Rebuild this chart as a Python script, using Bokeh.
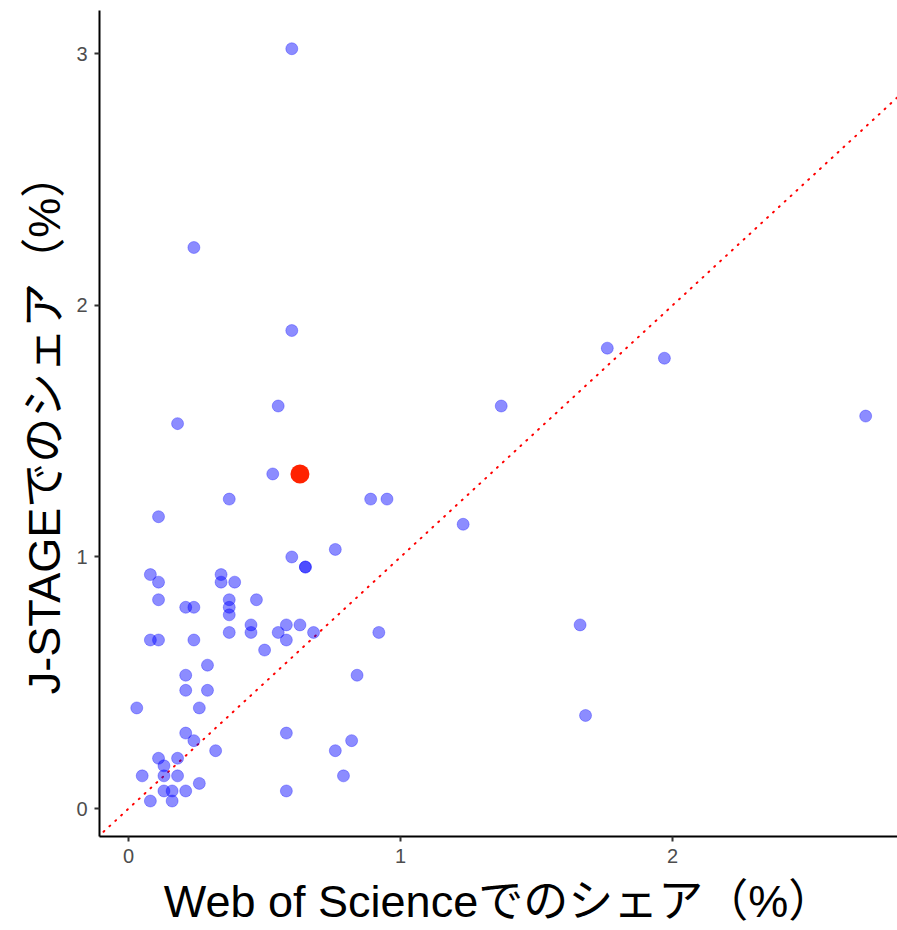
from bokeh.plotting import figure
from bokeh.models import ColumnDataSource, Range1d, FixedTicker
from bokeh.embed import file_html
from bokeh.resources import INLINE

# Web of Science share (%) and J-STAGE share (%) per field
wos_share = [0.60, 0.65, 0.65, 0.08, 0.11, 0.11, 0.21, 0.24, 0.34, 0.34, 0.39,
             0.37, 0.37, 0.37, 0.47, 0.37, 0.45, 0.45, 0.50, 0.55, 0.58, 0.58,
             0.63, 0.08, 0.11, 0.24, 0.29, 0.21, 0.21, 0.29, 0.03, 0.26, 0.21,
             0.24, 0.32, 0.58, 0.11, 0.18, 0.13, 0.13, 0.05, 0.18, 0.26, 0.13,
             0.16, 0.21, 0.08, 0.16, 0.58, 0.76, 0.68, 0.92, 0.84, 0.82, 0.76,
             0.79, 0.55, 0.18, 0.53, 0.37, 0.89, 0.95, 0.11, 1.76, 1.97, 2.71,
             1.37, 1.66, 1.68, 0.60, 0.24, 0.60, 1.23]
jstage_share = [1.00, 0.96, 0.96, 0.93, 0.90, 0.83, 0.80, 0.80, 0.93, 0.90, 0.90,
                0.83, 0.80, 0.77, 0.83, 0.70, 0.73, 0.70, 0.63, 0.70, 0.73, 0.67,
                0.73, 0.67, 0.67, 0.67, 0.57, 0.53, 0.47, 0.47, 0.40, 0.40, 0.30,
                0.27, 0.23, 0.30, 0.20, 0.20, 0.17, 0.13, 0.13, 0.13, 0.10, 0.07,
                0.07, 0.07, 0.03, 0.03, 0.07, 1.03, 0.70, 0.70, 0.53, 0.27, 0.23,
                0.13, 1.60, 1.53, 1.33, 1.23, 1.23, 1.23, 1.16, 1.83, 1.79, 1.56,
                1.60, 0.73, 0.37, 3.02, 2.23, 1.90, 1.13]

# highlighted field
highlight_wos = [0.63]
highlight_jstage = [1.33]

# reference line y = x
ref_line = [-0.2, 3.0]

x_ticks = [0, 1, 2]
y_ticks = [0, 1, 2, 3]

p = figure(width=897, height=930, output_backend="svg", toolbar_location=None,
           x_range=Range1d(-0.107, 2.827), y_range=Range1d(-0.111, 3.172),
           min_border_left=99, min_border_right=0, min_border_top=10,
           min_border_bottom=94)
p.background_fill_color = "white"
p.border_fill_color = "white"
p.outline_line_color = None
p.grid.visible = False

p.line(ref_line, ref_line, line_color="#ff0000", line_width=2,
       line_dash="1 7", line_cap="round")

src = ColumnDataSource(dict(x=wos_share, y=jstage_share))
p.scatter("x", "y", source=src, size=12, fill_color="#0000ff", fill_alpha=0.45,
          line_color="#0000ff", line_alpha=0.3, line_width=1)

p.scatter(highlight_wos, highlight_jstage, size=19, fill_color="#ff2200",
          line_color="#ff2200", line_width=0)

for ax, ticks in ((p.xaxis, x_ticks), (p.yaxis, y_ticks)):
    ax.ticker = FixedTicker(ticks=ticks)
    ax.axis_line_color = "black"
    ax.axis_line_width = 2
    ax.major_tick_line_color = "#333333"
    ax.major_tick_line_width = 2
    ax.major_tick_out = 5
    ax.major_tick_in = 0
    ax.minor_tick_line_color = None
    ax.major_label_text_color = "#4d4d4d"
    ax.major_label_text_font_size = "20px"
    ax.major_label_text_font = "Liberation Sans"
    ax.axis_label_text_font = "Liberation Sans, Noto Sans CJK JP"
    ax.axis_label_text_font_size = "45px"
    ax.axis_label_text_font_style = "normal"
    ax.axis_label_text_color = "black"

p.xaxis.axis_label = "Web of Scienceでのシェア（%）"
p.yaxis.axis_label = "J-STAGEでのシェア（%）"
p.xaxis.major_label_standoff = 7
p.yaxis.major_label_standoff = 7
p.xaxis.axis_label_standoff = 10
p.yaxis.axis_label_standoff = 3

open("out.html", "w").write(file_html(p, INLINE))
